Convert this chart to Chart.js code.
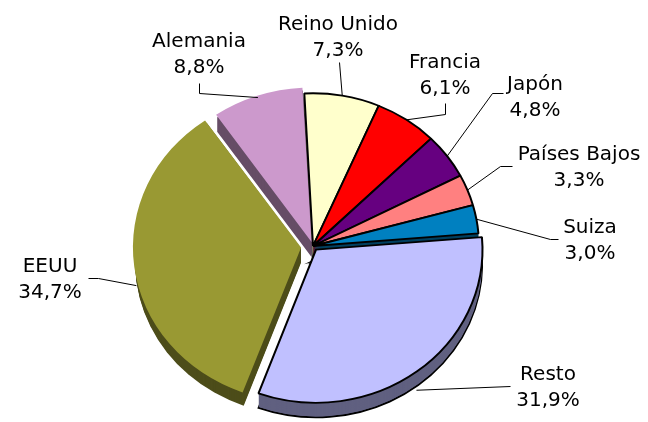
<!DOCTYPE html>
<html>
<head>
<meta charset="utf-8">
<script src="https://cdn.jsdelivr.net/npm/chart.js@4/dist/chart.umd.min.js"></script>
<style>
  html, body { margin: 0; padding: 0; background: #fff; }
  #wrap { width: 648px; height: 422px; }
</style>
</head>
<body>
<div id="wrap"><canvas id="pieChart" width="648" height="422"></canvas></div>
<script>
// Datos: reparto por país (%)
const paises = ['Reino Unido', 'Francia', 'Japón', 'Países Bajos', 'Suiza', 'Resto', 'EEUU', 'Alemania'];
const porcentajes = [7.3, 6.1, 4.8, 3.3, 3.0, 31.9, 34.7, 8.8];

// Colores de la cara superior y del lateral 3D
const colores = ['#FFFFCC', '#FF0000', '#660080', '#FF8080', '#0080C0', '#C0C0FF', '#999933', '#CC99CC'];
const coloresLado = ['#80806A', '#800000', '#330040', '#804040', '#004060', '#606080', '#4D4D1A', '#664D66'];
const bordes = [2, 2, 2, 2, 2, 2, 0, 0];
const separacion = [0, 0, 0, 0, 0, 20, 48, 18]; // Chart.js desplaza offset/4 px

// Geometría del "3D"
const ESCALA_Y = 0.92;
const PROFUNDIDAD = 15;

// Posición de las etiquetas: centro del texto, línea base y codo de la línea guía
const etiquetas = [
  { x: 338, y: 30, codo: [[339, 62]] },
  { x: 445, y: 68, codo: [[445, 103], [445, 114]] },
  { x: 535, y: 90, codo: [[503, 93], [492, 93]] },
  { x: 579, y: 160, codo: [[512, 166], [500, 166]] },
  { x: 590, y: 233, codo: [[558, 239], [550, 239]] },
  { x: 548, y: 380, codo: [[510, 386]] },
  { x: 50, y: 272, codo: [[88, 278], [98, 278]] },
  { x: 199, y: 47, codo: [[199, 83], [199, 93]] }
];

function aplastar(ctx, cx, cy) {
  ctx.translate(cx, cy);
  ctx.scale(1, ESCALA_Y);
  ctx.translate(-cx, -cy);
}

// Dibuja el lateral de cada porción y achata el pastel
const pastel3d = {
  id: 'pastel3d',
  beforeDatasetsDraw(chart) {
    const ctx = chart.ctx;
    const arcs = chart.getDatasetMeta(0).data;
    const cx = arcs[0].x, cy = arcs[0].y;
    ctx.save();
    aplastar(ctx, cx, cy);
    arcs.forEach((arc, i) => {
      const p = arc.getProps(['x', 'y', 'startAngle', 'endAngle', 'outerRadius']);
      const off = (arc.options.offset || 0) / 4;
      const mid = (p.startAngle + p.endAngle) / 2;
      const ox = p.x + Math.cos(mid) * off;
      const oy = p.y + Math.sin(mid) * off;
      for (let d = PROFUNDIDAD; d >= 1; d--) {
        const dy = d / ESCALA_Y;
        ctx.beginPath();
        ctx.moveTo(ox, oy + dy);
        ctx.arc(ox, oy + dy, p.outerRadius, p.startAngle, p.endAngle);
        ctx.closePath();
        ctx.fillStyle = coloresLado[i];
        ctx.fill();
        if (d === PROFUNDIDAD && bordes[i]) {
          ctx.lineWidth = bordes[i];
          ctx.strokeStyle = '#000';
          ctx.stroke();
        }
      }
    });
    ctx.restore();
    ctx.save();
    aplastar(ctx, cx, cy);
  },
  afterDatasetsDraw(chart) {
    chart.ctx.restore();
  },
  afterDraw(chart) {
    const ctx = chart.ctx;
    const arcs = chart.getDatasetMeta(0).data;
    const cy = arcs[0].y;
    ctx.save();
    ctx.font = '20px "DejaVu Sans", Verdana, sans-serif';
    ctx.fillStyle = '#000';
    ctx.textAlign = 'center';
    ctx.textBaseline = 'alphabetic';
    arcs.forEach((arc, i) => {
      const p = arc.getProps(['x', 'y', 'startAngle', 'endAngle', 'outerRadius']);
      const off = (arc.options.offset || 0) / 4;
      const mid = (p.startAngle + p.endAngle) / 2;
      const ex = p.x + Math.cos(mid) * (p.outerRadius + off);
      let ey = cy + (p.y + Math.sin(mid) * (p.outerRadius + off) - cy) * ESCALA_Y;
      // las porciones de delante llevan la línea al lateral
      if (Math.sin(mid) > 0.1) ey += PROFUNDIDAD + 4;
      const et = etiquetas[i];
      ctx.beginPath();
      ctx.strokeStyle = '#000';
      ctx.lineWidth = 1;
      ctx.moveTo(et.codo[0][0] + 0.5, et.codo[0][1] + 0.5);
      et.codo.slice(1).forEach(c => ctx.lineTo(c[0] + 0.5, c[1] + 0.5));
      ctx.lineTo(ex, ey);
      ctx.stroke();
      ctx.fillText(paises[i], et.x, et.y);
      ctx.fillText(porcentajes[i].toFixed(1).replace('.', ',') + '%', et.x, et.y + 26);
    });
    ctx.restore();
  }
};

const ctx = document.getElementById('pieChart').getContext('2d');

new Chart(ctx, {
  type: 'pie',
  data: {
    labels: paises,
    datasets: [{
      data: porcentajes,
      backgroundColor: colores,
      borderColor: '#000',
      borderWidth: bordes,
      offset: separacion,
      clip: false
    }]
  },
  options: {
    responsive: false,
    animation: false,
    events: [],
    rotation: -3,
    radius: 166,
    layout: { padding: { left: 0, right: 22, top: 70, bottom: 0 } },
    plugins: {
      legend: { display: false },
      tooltip: { enabled: false }
    }
  },
  plugins: [pastel3d]
});
</script>
</body>
</html>
